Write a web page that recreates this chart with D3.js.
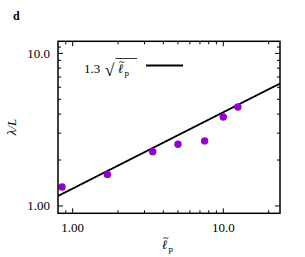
<!DOCTYPE html>
<html><head><meta charset="utf-8">
<script src="https://cdn.jsdelivr.net/npm/d3@7"></script>
<style>body{margin:0;background:#fff}svg{display:block}</style>
</head><body>
<svg id="c" width="305" height="257"></svg>
<script>
const xVals = [0.85, 1.70, 3.40, 5.00, 7.52, 10.0, 12.5];
const yVals = [1.33, 1.61, 2.27, 2.54, 2.67, 3.83, 4.45];
const fitCoef = 1.3;
const xMajor = [1, 10];
const xMajorLabels = ["1.00", "10.0"];
const yMajor = [1, 10];
const yMajorLabels = ["1.00", "10.0"];
const xMinor = [0.9, 2, 3, 4, 5, 6, 7, 8, 9, 20];
const yMinor = [2, 3, 4, 5, 6, 7, 8, 9, 11];

const svg = d3.select("#c");
const m = {l: 58, r: 280, t: 41.3, b: 213.3};
const x = d3.scaleLog().domain([0.799, 23.8]).range([m.l, m.r]);
const y = d3.scaleLog().domain([0.895, 12.0]).range([m.b, m.t]);
const font = "Liberation Serif, DejaVu Serif, serif";

function tickSet(vals, len, orient) {
  vals.forEach(v => {
    if (orient === "x") {
      const px = x(v);
      if (px <= m.l || px >= m.r) return;
      svg.append("line").attr("x1", px).attr("x2", px).attr("y1", m.b).attr("y2", m.b - len).attr("stroke", "#000").attr("stroke-width", 1);
      svg.append("line").attr("x1", px).attr("x2", px).attr("y1", m.t).attr("y2", m.t + len).attr("stroke", "#000").attr("stroke-width", 1);
    } else {
      const py = y(v);
      if (py >= m.b || py <= m.t) return;
      svg.append("line").attr("y1", py).attr("y2", py).attr("x1", m.l).attr("x2", m.l + len).attr("stroke", "#000").attr("stroke-width", 1);
      svg.append("line").attr("y1", py).attr("y2", py).attr("x1", m.r).attr("x2", m.r - len).attr("stroke", "#000").attr("stroke-width", 1);
    }
  });
}
tickSet(xMajor, 5, "x"); tickSet(xMinor, 3, "x");
tickSet(yMajor, 5, "y"); tickSet(yMinor, 3, "y");

xMajor.forEach((v, i) => svg.append("text").attr("x", x(v)).attr("y", 232).attr("text-anchor", "middle")
  .attr("font-family", font).attr("font-size", 13).text(xMajorLabels[i]));
yMajor.forEach((v, i) => svg.append("text").attr("x", 50).attr("y", y(v) + 4.5).attr("text-anchor", "end")
  .attr("font-family", font).attr("font-size", 13).text(yMajorLabels[i]));

const xs = d3.range(0, 101).map(i => Math.exp(Math.log(0.799) + i / 100 * (Math.log(23.8) - Math.log(0.799))));
svg.append("clipPath").attr("id", "pc").append("rect").attr("x", m.l).attr("y", m.t).attr("width", m.r - m.l).attr("height", m.b - m.t);
svg.append("path").datum(xs).attr("clip-path", "url(#pc)")
  .attr("d", d3.line().x(d => x(d)).y(d => y(fitCoef * Math.sqrt(d))))
  .attr("fill", "none").attr("stroke", "#000").attr("stroke-width", 1.8);

svg.selectAll("circle.p").data(xVals).join("circle").attr("class", "p")
  .attr("cx", d => x(d)).attr("cy", (d, i) => y(yVals[i])).attr("r", 3.7).attr("fill", "#9400d3");

svg.append("rect").attr("x", m.l).attr("y", m.t).attr("width", m.r - m.l).attr("height", m.b - m.t)
  .attr("fill", "none").attr("stroke", "#000").attr("stroke-width", 1.5);

// ℓ̃_p with the tilde drawn as a small path
function ellP(gx, gy) {
  const g = svg.append("g").attr("font-family", font);
  g.append("text").attr("x", gx).attr("y", gy).attr("font-size", 13).attr("font-style", "italic").text("ℓ");
  const tx = gx + 1.2, ty = gy - 11.5;
  g.append("path").attr("d", `M${tx},${ty + 1} q1.2,-1.6 2.6,-0.5 t2.6,-0.5`)
    .attr("fill", "none").attr("stroke", "#000").attr("stroke-width", 0.8);
  g.append("text").attr("x", gx + 6.5).attr("y", gy + 3).attr("font-size", 9).text("p");
  return g;
}

// legend
svg.append("text").attr("x", 84).attr("y", 73).attr("font-family", font).attr("font-size", 13).text("1.3");
svg.append("text").attr("x", 105).attr("y", 76).attr("font-family", font).attr("font-size", 17).text("√");
svg.append("line").attr("x1", 115.5).attr("x2", 137).attr("y1", 58.5).attr("y2", 58.5).attr("stroke", "#000").attr("stroke-width", 0.8);
ellP(118, 73);
svg.append("line").attr("x1", 146).attr("x2", 183).attr("y1", 65.5).attr("y2", 65.5).attr("stroke", "#000").attr("stroke-width", 1.8);

svg.append("text").attr("x", 13).attr("y", 20).attr("font-family", font).attr("font-weight", "bold").attr("font-size", 12).text("d");

ellP(162, 249);
svg.append("text").attr("transform", "translate(16,127) rotate(-90)").attr("text-anchor", "middle")
  .attr("font-family", font).attr("font-size", 13).attr("font-style", "italic").text("λ/L");
</script>
</body></html>
